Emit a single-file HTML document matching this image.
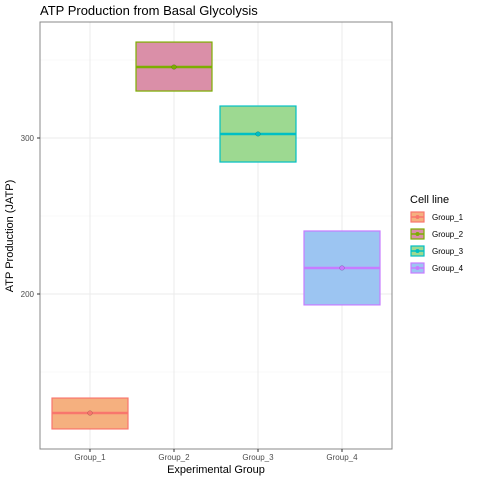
<!DOCTYPE html>
<html><head><meta charset="utf-8"><style>
body{margin:0;background:#fff;font-family:"Liberation Sans",sans-serif}
</style></head><body>
<svg id="c" width="480" height="480" xmlns="http://www.w3.org/2000/svg" style="display:block">
<rect width="480" height="480" fill="#fff"/>
<text x="40" y="15" font-size="13" fill="#000">ATP Production from Basal Glycolysis</text>
<g id="grid"></g><g id="marks"></g>
<rect x="40" y="22" width="352" height="427" fill="none" stroke="#888" stroke-width="1"/>
<g id="axes"></g>
<text x="216" y="473" font-size="11" text-anchor="middle">Experimental Group</text>
<text transform="translate(13,236) rotate(-90)" font-size="11" text-anchor="middle">ATP Production (JATP)</text>
<g id="legend"></g>
</svg>
<script>
const categories=["Group_1","Group_2","Group_3","Group_4"];
const lowValues=[113.5,330.1,284.6,193];
const highValues=[133.3,361.5,320.5,240.4];
const meanValues=[123.7,345.5,302.6,216.7];
const yTicks=[200,300];
const yMinor=[150,250,350];
const fills=["#F5B07F","#DA8FA8","#9DD991","#9CC5F2"];
const strokes=["#F8766D","#7CAE00","#00BFC4","#C77CFF"];
const ns="http://www.w3.org/2000/svg";
const y=v=>138-(v-300)*1.56;
const x=i=>90+i*84;
function mk(t,a,p){const e=document.createElementNS(ns,t);for(const k in a)e.setAttribute(k,a[k]);p.appendChild(e);return e;}
const grid=document.getElementById('grid'),marks=document.getElementById('marks'),axes=document.getElementById('axes'),leg=document.getElementById('legend');
yMinor.forEach(v=>{const l=mk('line',{x1:40,x2:392,y1:y(v),y2:y(v),stroke:'#f2f2f2','stroke-width':0.6},grid);

});
yTicks.forEach(v=>{const l=mk('line',{x1:40,x2:392,y1:y(v),y2:y(v),stroke:'#ebebeb','stroke-width':1},grid);


const tk=mk('line',{x1:37,x2:40,y1:y(v),y2:y(v),stroke:'#333'},axes);


const t=mk('text',{x:34,y:y(v)+3,'font-size':8,'text-anchor':'end',fill:'#4d4d4d'},axes);t.textContent=v;

});
categories.forEach((c,i)=>{
const g=mk('line',{x1:x(i),x2:x(i),y1:22,y2:449,stroke:'#ebebeb'},grid);


const r=mk('rect',{x:x(i)-38,y:y(highValues[i]),width:76,height:y(lowValues[i])-y(highValues[i]),fill:fills[i],stroke:strokes[i],'stroke-width':1.2},marks);


const m=mk('line',{x1:x(i)-38,x2:x(i)+38,y1:y(meanValues[i]),y2:y(meanValues[i]),stroke:strokes[i],'stroke-width':2.5},marks);


const p=mk('circle',{cx:x(i),cy:y(meanValues[i]),r:2.3,fill:strokes[i],stroke:'#000','stroke-opacity':0.25,'stroke-width':0.6},marks);


const tk=mk('line',{x1:x(i),x2:x(i),y1:449,y2:452,stroke:'#333'},axes);


const t=mk('text',{x:x(i),y:460,'font-size':8,'text-anchor':'middle',fill:'#4d4d4d'},axes);t.textContent=c;


const ky=212+i*17;
const k=mk('rect',{x:411,y:ky,width:13,height:10,fill:fills[i],stroke:strokes[i],'stroke-width':1.2},leg);


mk('line',{x1:411,x2:424,y1:ky+5,y2:ky+5,stroke:strokes[i],'stroke-width':1.5},leg);
mk('circle',{cx:417.5,cy:ky+5,r:2,fill:strokes[i]},leg);
const lt=mk('text',{x:432,y:ky+8,'font-size':8,fill:'#000'},leg);lt.textContent=c;


});
const lt=mk('text',{x:410,y:203,'font-size':11,fill:'#000'},leg);lt.textContent='Cell line';


</script>
</body></html>
